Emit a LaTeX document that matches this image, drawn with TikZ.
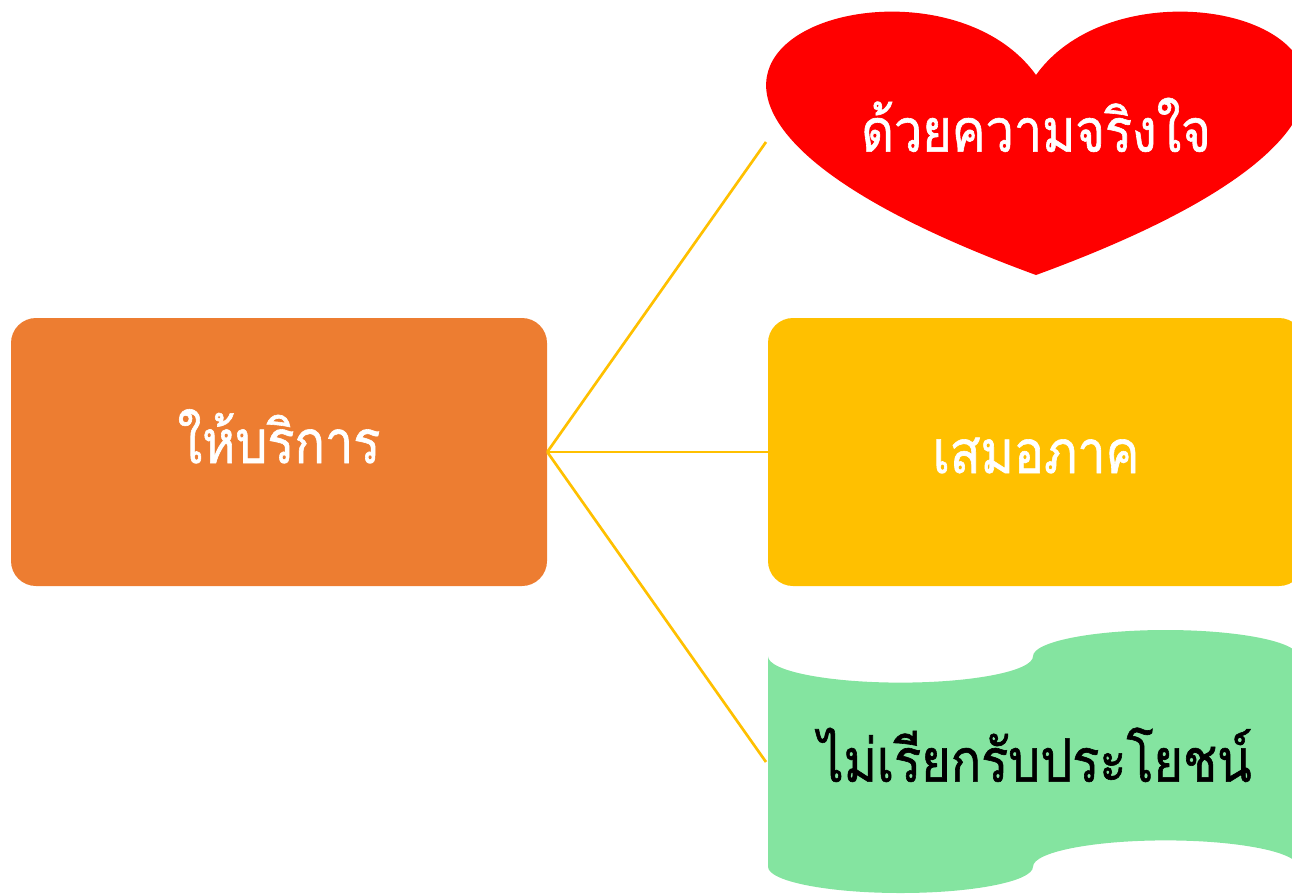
\documentclass[tikz,border=0pt]{standalone}
\usepackage{fontspec}
\newfontfamily\thaifont[Script=Thai,FakeStretch=0.84,FakeBold=1.0]{Loma}
\definecolor{servorange}{HTML}{ED7D31}
\definecolor{fairyellow}{HTML}{FFC000}
\definecolor{heartred}{HTML}{FF0000}
\definecolor{tapegreen}{HTML}{84E4A0}

\begin{document}
\begin{tikzpicture}[x=0.75pt,y=-0.75pt,
    box/.style={rounded corners=18.75pt, minimum width=402pt, minimum height=201pt, inner sep=0pt},
    word/.style={font=\thaifont\fontsize{45}{50}\selectfont, text height=30pt, text depth=8pt},
    link/.style={fairyellow, line width=2pt}]
\useasboundingbox (0,0) rectangle (1292,893);
\clip (0,0) rectangle (1292,893);

\fill[heartred] (1036,75) .. controls (1147.7,-80.6) and (1583,75) .. (1036,275)
    .. controls (489,75) and (924.3,-80.6) .. (1036,75);
\fill[tapegreen] (768,656.3) .. controls (768,670.8) and (827.3,682.6) .. (900.5,682.6)
    .. controls (973.7,682.6) and (1033,670.8) .. (1033,656.3)
    .. controls (1033,641.8) and (1092.3,630) .. (1165.5,630)
    .. controls (1238.7,630) and (1298,641.8) .. (1298,656.3)
    -- (1298,866.7)
    .. controls (1298,852.2) and (1238.7,840.4) .. (1165.5,840.4)
    .. controls (1092.3,840.4) and (1033,852.2) .. (1033,866.7)
    .. controls (1033,881.2) and (973.7,893) .. (900.5,893)
    .. controls (827.3,893) and (768,881.2) .. (768,866.7) -- cycle;

\node[box, word, text height=26.5pt, text depth=10pt, fill=servorange, text=white] (serv) at (279,452) {ให้บริการ};
\node[box, word, text height=40pt, text depth=8.5pt, fill=fairyellow, text=white] (equal) at (1036,452) {เสมอภาค};
\node[word, text=white] (sincere) at (1036,137) {ด้วยความจริงใจ};
\node[word] (nobribe) at (1035,767) {ไม่เรียกรับประโยชน์};

\coordinate (heartin) at (766,142);
\coordinate (wavein) at (766,762);
\foreach \t in {heartin,equal.west,wavein}
    \draw[link] (serv.east) -- (\t);
\end{tikzpicture}
\end{document}
